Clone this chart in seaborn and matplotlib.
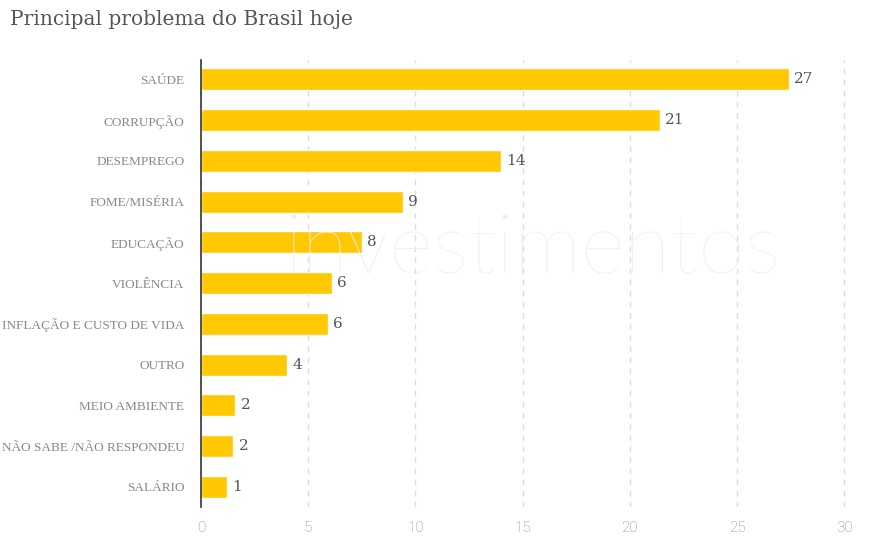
import matplotlib
matplotlib.use("Agg")
import matplotlib.pyplot as plt
import seaborn as sns
import pandas as pd

# Data
categories = ["SAÚDE", "CORRUPÇÃO", "DESEMPREGO", "FOME/MISÉRIA", "EDUCAÇÃO",
              "VIOLÊNCIA", "INFLAÇÃO E CUSTO DE VIDA", "OUTRO", "MEIO AMBIENTE",
              "NÃO SABE /NÃO RESPONDEU", "SALÁRIO"]
values = [27.4, 21.4, 14.0, 9.4, 7.5, 6.1, 5.9, 4.0, 1.6, 1.5, 1.2]
value_labels = ["27", "21", "14", "9", "8", "6", "6", "4", "2", "2", "1"]
x_ticks = [0, 5, 10, 15, 20, 25, 30]

df = pd.DataFrame({"problema": categories, "valor": values})

sns.set_theme(style="white")
plt.rcParams["font.family"] = ["DejaVu Serif"]

fig = plt.figure(figsize=(8.74, 5.43), dpi=100)
ax = fig.add_axes([0.230, 0.066, 0.741, 0.823])

# faint watermark behind the bars
fig.text(0.609, 0.54, "investimentos", fontsize=61, color="#efefef",
         family="Lato", fontweight="light", ha="center", va="center", zorder=0)
ax.patch.set_alpha(0)

sns.barplot(data=df, x="valor", y="problema", color="#ffc800", width=0.54,
            saturation=1, ax=ax, zorder=3)

for i, (v, lab) in enumerate(zip(values, value_labels)):
    ax.text(v + 0.25, i, lab, va="center", ha="left", fontsize=11, color="#555555")

ax.set_xlim(0, 30.2)
ax.set_ylim(10.5, -0.47)
ax.set_xticks(x_ticks)
ax.set_xticklabels([str(t) for t in x_ticks], family="Roboto", fontweight="light",
                   fontsize=11, color="#888888")
ax.tick_params(axis="y", length=0, pad=12)
ax.tick_params(axis="x", length=0, pad=10)
ax.set_yticks(range(len(categories)))
ax.set_yticklabels(categories, family="Liberation Serif", fontsize=9.5, color="#888888")

ax.xaxis.grid(True, linestyle=(0, (4, 4)), color="#dddddd", linewidth=1, zorder=0)
ax.set_xlabel("")
ax.set_ylabel("")
for side in ["top", "right", "bottom"]:
    ax.spines[side].set_visible(False)
ax.spines["left"].set_color("#333333")
ax.spines["left"].set_linewidth(1.2)
ax.spines["left"].set_zorder(5)

fig.text(0.012, 0.965, "Principal problema do Brasil hoje", fontsize=14.5,
         color="#555555", ha="left", va="center")

fig.savefig("out.png", dpi=100)
